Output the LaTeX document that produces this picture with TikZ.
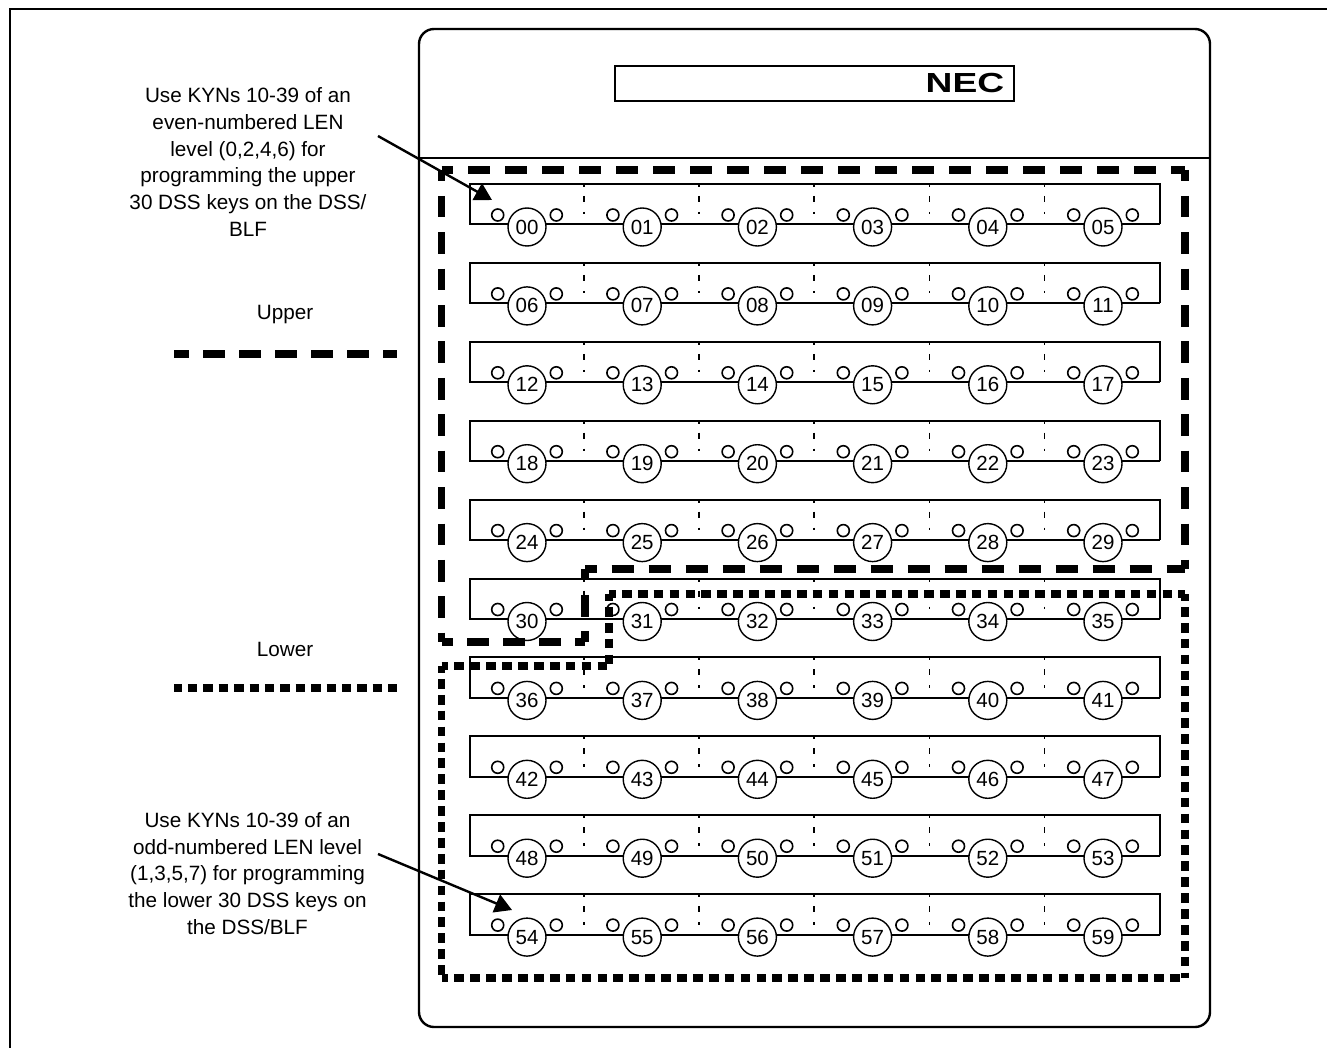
\documentclass[tikz,border=0pt]{standalone}
\usepackage{fontspec}
\setmainfont{Liberation Sans}
\usetikzlibrary{arrows.meta}
\tikzset{
  x=1pt,y=-1pt,
  frame/.style={line width=2.4pt,draw=black},
  thin line/.style={line width=2pt,draw=black},
  divider/.style={line width=1.8pt,draw=black,dash pattern=on 3pt off 9pt on 6pt off 10pt on 2.5pt off 100pt},
  upper line/.style={line width=7.3pt,draw=black,dash pattern=on 22pt off 15pt,dash phase=10.5},
  lower line/.style={line width=7.3pt,draw=black,dash pattern=on 9.7pt off 6.2pt,dash phase=3},
  keycircle/.style={circle,draw=black,line width=1.4pt,fill=white,minimum size=38pt,inner sep=0pt,font=\fontsize{20.5}{20.5}\selectfont},
  led/.style={circle,draw=black,line width=1.6pt,fill=white,minimum size=12pt,inner sep=0pt},
  note/.style={align=center,font=\fontsize{20.7}{26.8}\selectfont,inner sep=0pt},
  pointer/.style={line width=2.4pt,draw=black,-{Triangle[length=17pt,width=19pt]}},
}
\begin{document}
\begin{tikzpicture}
\useasboundingbox (0,0) rectangle (1327,1048);
% outer frame
\coordinate (fa) at (10,1048);
\coordinate (fb) at (10,9);
\coordinate (fc) at (1327,9);
\draw[frame] (fa) -- (fb) -- (fc);
% console
\draw[frame,rounded corners=15pt] (419,29) rectangle (1210,1027);
\coordinate (pl) at (419,158);
\coordinate (pr) at (1210,158);
\draw[frame] (pl) -- (pr);
\draw[frame,line width=2.6pt] (615,66) rectangle (1014,101);
\node[inner sep=0pt] (nec) at (965,83) {\scalebox{1.55}[1.15]{\fontsize{24}{24}\selectfont\bfseries NEC}};
% key rows
\foreach \r in {0,...,9}{
  \pgfmathsetmacro{\ty}{184+78.9*\r}
  \pgfmathsetmacro{\by}{\ty+40.5}
  \draw[thin line] (1160,\by) -- (1160,\ty) -- (470,\ty) -- (470,\by) -- (1160,\by);
  \foreach \c in {1,...,5}{
    \pgfmathsetmacro{\dx}{469+115.1*\c}
    \draw[divider] (\dx,\ty) -- (\dx,\by);
  }
  \foreach \c in {0,...,5}{
    \pgfmathtruncatemacro{\k}{\r*6+\c}
    \pgfmathsetmacro{\cx}{527+115.2*\c}
    \pgfmathsetmacro{\cy}{\ty+43}
    \pgfmathsetmacro{\ly}{\ty+31}
    \pgfmathsetmacro{\lx}{\cx-29.3}
    \pgfmathsetmacro{\rx}{\cx+29.3}
    \node[led] (la\k) at (\lx,\ly) {};
    \node[led] (lb\k) at (\rx,\ly) {};
    \ifnum\k<10
      \node[keycircle] (k\k) at (\cx,\cy) {0\k};
    \else
      \node[keycircle] (k\k) at (\cx,\cy) {\k};
    \fi
  }
}
% upper area, corners
\coordinate (u1) at (441.5,170);
\coordinate (u2) at (1185,170);
\coordinate (u3) at (1185,569);
\coordinate (u4) at (585,569);
\coordinate (u5) at (585,642);
\coordinate (u6) at (441.5,642);
\draw[upper line] (u1) -- (u2);
\draw[upper line,dash pattern=on 21.6pt off 14.8pt] (u1) -- (u6);
\draw[upper line,dash pattern=on 21.6pt off 14.8pt] (u2) -- (u3);
\draw[upper line] (u4) -- (u3);
\draw[upper line,dash pattern=on 21.6pt off 14.8pt] (u4) -- (u5);
\draw[upper line,dash pattern=on 21.6pt off 14.4pt] (u6) -- (u5);
% lower area, corners
\coordinate (v1) at (441.5,666);
\coordinate (v2) at (609,666);
\coordinate (v3) at (609,594);
\coordinate (v4) at (1185,594);
\coordinate (v5) at (1185,978);
\coordinate (v6) at (441.5,978);
\draw[lower line] (v1) -- (v2);
\draw[lower line] (v3) -- (v2);
\draw[lower line] (v3) -- (v4);
\draw[lower line] (v4) -- (v5);
\draw[lower line] (v6) -- (v5);
\draw[lower line] (v1) -- (v6);
% legends
\coordinate (ua) at (174,354);
\coordinate (ub) at (397,354);
\coordinate (la) at (174,688);
\coordinate (lb) at (397,688);
\draw[upper line,dash pattern=on 21.5pt off 14.5pt,dash phase=7] (ua) -- (ub);
\draw[lower line,dash pattern=on 9.5pt off 5.9pt,dash phase=1.5] (la) -- (lb);
\node[note] (upper) at (285,315) {Upper};
\node[note] (lower) at (285,649) {Lower};
\node[note] (t1) at (248,162) {Use KYNs 10-39 of an\\even-numbered LEN\\level (0,2,4,6) for\\programming the upper\\30 DSS keys on the DSS/\\BLF};
\node[note] (t2) at (247.5,873.5) {Use KYNs 10-39 of an\\odd-numbered LEN level\\(1,3,5,7) for programming\\the lower 30 DSS keys on\\the DSS/BLF};
\coordinate (s1) at (378,136);
\coordinate (e1) at (492,200);
\coordinate (s2) at (378,854);
\coordinate (e2) at (512,910);
\draw[pointer] (s1) -- (e1);
\draw[pointer] (s2) -- (e2);
\end{tikzpicture}
\end{document}
